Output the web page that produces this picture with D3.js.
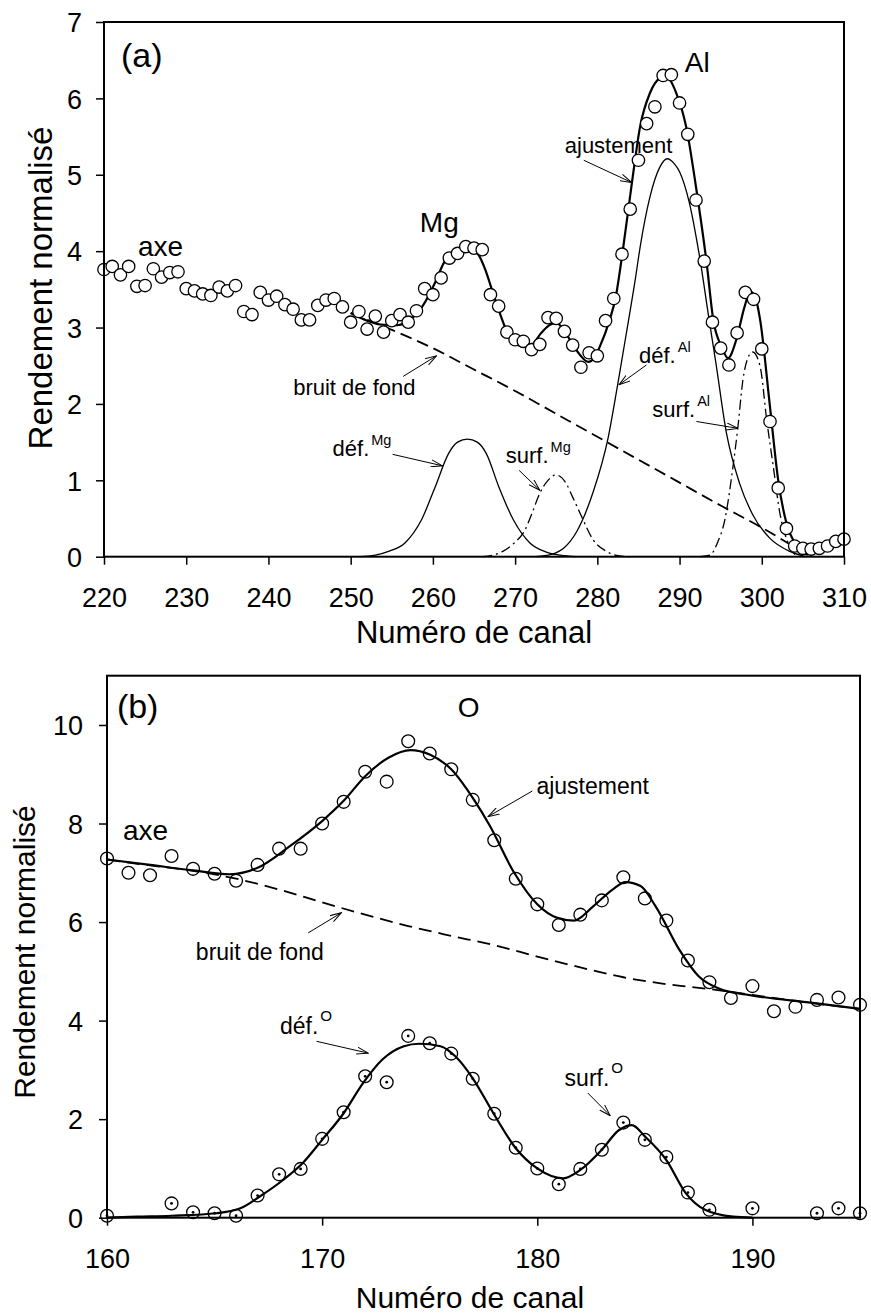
<!DOCTYPE html>
<html><head><meta charset="utf-8">
<script src="https://cdn.jsdelivr.net/npm/d3@7"></script>
<style>
html,body{margin:0;padding:0;background:#fff;}
text{font-family:"Liberation Sans",Arial,sans-serif;fill:#000;}
</style></head>
<body>
<svg id="chart" width="871" height="1316"></svg>
<script>
// ---------------- DATA : panel (a) ----------------
const channelsA = d3.range(220, 311);
const yieldA = [3.76,3.80,3.69,3.80,3.54,3.55,3.77,3.66,3.72,3.73,
  3.51,3.48,3.44,3.42,3.53,3.48,3.55,3.21,3.17,3.46,
  3.36,3.41,3.30,3.24,3.10,3.10,3.29,3.36,3.38,3.27,
  3.07,3.21,2.98,3.15,2.94,3.09,3.17,3.07,3.22,3.51,
  3.43,3.65,3.91,3.97,4.06,4.04,4.02,3.43,3.28,2.94,
  2.84,2.82,2.71,2.78,3.13,3.12,2.95,2.77,2.48,2.67,
  2.63,3.09,3.38,3.96,4.55,5.19,5.67,5.89,6.30,6.31,
  5.94,5.53,4.67,3.87,3.07,2.73,2.51,2.93,3.46,3.37,
  2.72,1.77,0.90,0.37,0.14,0.11,0.10,0.11,0.14,0.20,0.23];
const fitA = [[250,3.19],[252,3.09],[253.6,3.04],[255.6,3.03],[257.2,3.10],[258.8,3.29],[260.4,3.62],
  [261.3,3.84],[262.6,3.99],[264.1,4.05],[265.5,3.96],[266.5,3.72],[267.4,3.42],[268.2,3.17],[269.0,2.95],
  [269.8,2.82],[271.0,2.75],[272.2,2.79],[273.1,2.92],[273.9,3.01],[275.0,3.06],[276.2,2.92],[277.1,2.76],
  [277.9,2.64],[278.9,2.55],[279.6,2.60],[280.3,2.75],[281.5,3.10],[282.2,3.38],[283.1,4.01],[284.2,4.89],
  [285.2,5.63],[286.4,6.07],[287.6,6.26],[288.4,6.28],[289.6,6.07],[290.8,5.63],[292.0,4.84],[293.3,3.84],
  [294.1,3.10],[295.1,2.75],[295.9,2.60],[296.9,2.84],[297.9,3.27],[298.6,3.47],[299.2,3.40],[299.8,3.10],
  [301.0,1.96],[302.0,1.00],[303.0,0.44],[304.0,0.18],[305.0,0.07],[305.6,0.02]];
const bgA = [[250,3.19],[255,2.97],[260,2.73],[265,2.45],[270,2.17],[275,1.87],[280,1.57],[285,1.27],
  [290,0.97],[295,0.67],[300,0.38],[303,0.19],[305.5,0.02]];
const defMg = [[251,0],[253,0.02],[254.6,0.07],[256.6,0.18],[258.6,0.48],[260.3,0.92],[261.9,1.35],[263.0,1.50],
  [264.2,1.54],[265.4,1.50],[266.5,1.35],[268.0,0.92],[269.8,0.48],[271.8,0.18],[273.8,0.06],[275.5,0.02],[277.5,0]];
const surfMg = [[266,0],[267.3,0.02],[268.5,0.07],[269.8,0.17],[271.2,0.35],[272.1,0.58],[273.0,0.83],[274.0,1.00],
  [275.0,1.07],[276.2,0.96],[277.0,0.78],[277.9,0.57],[279.5,0.22],[281.1,0.07],[282.7,0.01],[284,0]];
const defAl = [[272.5,0],[274.4,0.03],[276,0.12],[277.5,0.33],[279.5,0.85],[281.3,1.55],[282.5,2.27],[283.6,2.97],
  [284.6,3.62],[285.2,4.05],[286.4,4.71],[287.6,5.10],[288.5,5.21],[289.4,5.14],[290.0,5.04],[291.2,4.63],
  [292.4,3.95],[293.6,3.10],[294.4,2.55],[295.7,1.62],[297.3,0.96],[298.9,0.55],[301.0,0.24],[303.4,0.07],[305.4,0]];
const surfAl = [[292.5,0],[293.7,0.02],[294.6,0.18],[295.5,0.48],[296.5,1.18],[297.1,1.70],[297.7,2.31],[298.3,2.60],
  [298.9,2.68],[299.8,2.49],[300.6,1.79],[301.4,1.18],[302.2,0.57],[303.2,0.18],[304.2,0.02],[305,0]];
const xTicksA = [220,230,240,250,260,270,280,290,300,310];
const yTicksA = [0,1,2,3,4,5,6,7];

// ---------------- DATA : panel (b) ----------------
const channelsB = d3.range(160, 196);
const yieldB = [7.29,7.00,6.95,7.34,7.08,6.98,6.84,7.16,7.49,7.49,
  8.00,8.44,9.05,8.85,9.67,9.42,9.10,8.48,7.66,6.88,
  6.36,5.94,6.15,6.44,6.91,6.48,6.03,5.22,4.78,4.46,
  4.70,4.19,4.28,4.42,4.47,4.32];
const channelsBO = [160,163,164,165,166,167,168,169,170,171,172,173,174,175,176,177,178,179,180,181,182,183,184,185,186,187,188,190,193,194,195];
const yieldBO = [0.04,0.29,0.11,0.09,0.04,0.45,0.88,0.99,1.60,2.14,2.87,2.75,3.69,3.54,3.33,2.82,2.11,1.42,1.00,0.68,0.99,1.38,1.93,1.58,1.23,0.51,0.16,0.19,0.09,0.19,0.09];
const fitB = [[160,7.27],[162,7.16],[164,7.05],[165.7,6.97],[167.0,7.10],[168.5,7.54],[170.0,8.05],[171.0,8.46],
  [172.0,8.96],[173.1,9.34],[174.1,9.49],[175.0,9.40],[176.0,9.10],[177.0,8.52],[177.8,7.95],[178.9,7.02],
  [180.0,6.36],[180.9,6.09],[181.7,6.03],[182.6,6.32],[183.5,6.66],[184.1,6.81],[184.8,6.73],[185.5,6.32],
  [186.6,5.44],[187.5,4.90],[188.5,4.64],[189.7,4.53],[192.8,4.36],[195,4.24]];
const bgB = [[160,7.27],[162,7.15],[164,7.04],[166,6.88],[168,6.66],[170,6.40],[172,6.15],[174,5.92],[176,5.72],
  [178,5.53],[180,5.30],[182,5.08],[184,4.88],[186,4.74],[188,4.64],[190,4.52],[192,4.40],[194,4.29],[195,4.24]];
const fitBO = [[160,0],[161.4,0.02],[163,0.04],[165.1,0.09],[166.2,0.19],[167.1,0.43],[168.2,0.77],[169.1,1.11],
  [170.0,1.58],[171.0,2.12],[171.9,2.73],[172.8,3.21],[173.8,3.48],[174.5,3.53],[175.5,3.48],[176.2,3.27],
  [177.0,2.83],[178.0,2.09],[179.0,1.41],[180.0,1.00],[181.2,0.80],[182.0,0.97],[183.0,1.38],[183.8,1.78],
  [184.4,1.88],[185.0,1.65],[186.0,1.17],[186.9,0.50],[187.8,0.16],[189.1,0.02],[190,0]];
const xTicksB = [160,170,180,190];
const yTicksB = [0,2,4,6,8,10];

// ---------------- LAYOUT ----------------
const svg = d3.select("#chart");
const defs = svg.append("defs");
defs.append("marker").attr("id","arr").attr("viewBox","0 0 12 8")
  .attr("refX",11.5).attr("refY",4).attr("markerWidth",12).attr("markerHeight",8)
  .attr("markerUnits","userSpaceOnUse").attr("orient","auto")
  .append("path").attr("d","M0,0.5 L11.5,4 L0,7.5").attr("fill","none").attr("stroke","#000").attr("stroke-width",1);

const xA = d3.scaleLinear().domain([220,310]).range([104,844]);
const yA = d3.scaleLinear().domain([0,7]).range([556.7,22]);
const xB = d3.scaleLinear().domain([160,195]).range([107,860]);
const yB = d3.scaleLinear().domain([0,11]).range([1217.7,675.7]);

function frame(g, x, y){
  const [x0,x1] = x.range(), [y0,y1] = y.range();
  g.append("rect").attr("x",x0).attr("y",y1).attr("width",x1-x0).attr("height",y0-y1)
    .attr("fill","none").attr("stroke","#000").attr("stroke-width",2);
}
function axes(g, x, y, xt, yt, fs, ypad){
  const gx = g.append("g").attr("transform",`translate(0,${y.range()[0]})`)
    .call(d3.axisBottom(x).tickValues(xt).tickSize(8).tickSizeOuter(0).tickFormat(d3.format("d")));
  gx.select(".domain").remove();
  gx.selectAll(".tick line").attr("stroke-width",1.5);
  gx.selectAll(".tick text").attr("y",50).attr("dy",0).style("font-size",fs+"px")
    .style("font-family","'Liberation Sans',Arial,sans-serif").attr("fill","#000");
  const gy = g.append("g").attr("transform",`translate(${x.range()[0]},0)`)
    .call(d3.axisLeft(y).tickValues(yt).tickSize(8).tickPadding(ypad).tickSizeOuter(0).tickFormat(d3.format("d")));
  gy.select(".domain").remove();
  gy.selectAll(".tick line").attr("stroke-width",1.5);
  gy.selectAll(".tick text").attr("dy","0.36em").style("font-size",fs+"px")
    .style("font-family","'Liberation Sans',Arial,sans-serif").attr("fill","#000");
}
function curve(g, x, y, pts, width, dash){
  const line = d3.line().x(d=>x(d[0])).y(d=>y(d[1])).curve(d3.curveMonotoneX);
  g.append("path").datum(pts).attr("d",line).attr("fill","none").attr("stroke","#000")
    .attr("stroke-width",width).attr("stroke-dasharray",dash||null).attr("stroke-linejoin","round");
}
function label(g, x, y, c, v, txt, fs, sup, supDx, supDy){
  const t = g.append("text").attr("x",x(c)).attr("y",y(v)).style("font-size",fs+"px").text(txt);
  if(sup){
    t.append("tspan").attr("dx",supDx).attr("dy",supDy).style("font-size",(fs*0.66)+"px").text(sup);
  }
  return t;
}
function arrow(g, x, y, c0, v0, c1, v1){
  g.append("line").attr("x1",x(c0)).attr("y1",y(v0)).attr("x2",x(c1)).attr("y2",y(v1))
    .attr("stroke","#000").attr("stroke-width",1).attr("marker-end","url(#arr)");
}

// ---------------- PANEL (a) ----------------
const gA = svg.append("g");
curve(gA, xA, yA, bgA, 1.8, "12,6");
curve(gA, xA, yA, defMg, 1.3);
curve(gA, xA, yA, surfMg, 1.3, "10,4,2,4");
curve(gA, xA, yA, defAl, 1.3);
curve(gA, xA, yA, surfAl, 1.3, "10,4,2,4");
curve(gA, xA, yA, fitA, 2.2);
gA.selectAll("circle.pt").data(channelsA.map((c,i)=>[c,yieldA[i]])).join("circle")
  .attr("class","pt").attr("cx",d=>xA(d[0])).attr("cy",d=>yA(d[1])).attr("r",6.2)
  .attr("fill","#fff").attr("stroke","#000").attr("stroke-width",1.3);
frame(gA, xA, yA);
axes(gA, xA, yA, xTicksA, yTicksA, 27, 14);
gA.append("text").attr("x",474).attr("y",643).attr("text-anchor","middle").style("font-size","31px").text("Numéro de canal");
gA.append("text").attr("transform","translate(52,288) rotate(-90)").attr("text-anchor","middle").style("font-size","33px").text("Rendement normalisé");

label(gA, xA, yA, 222.07, 6.41, "(a)", 34);
label(gA, xA, yA, 224.13, 3.94, "axe", 28);
label(gA, xA, yA, 258.41, 4.25, "Mg", 28);
label(gA, xA, yA, 290.63, 6.34, "Al", 28);
label(gA, xA, yA, 276.04, 5.28, "ajustement", 22);
arrow(gA, xA, yA, 278.35, 5.19, 284.15, 4.90);
label(gA, xA, yA, 243.01, 2.12, "bruit de fond", 22);
arrow(gA, xA, yA, 256.38, 2.36, 260.44, 2.63);
label(gA, xA, yA, 247.8, 1.32, "déf.", 22, "Mg", 2, -11);
arrow(gA, xA, yA, 255.1, 1.34, 261.16, 1.19);
label(gA, xA, yA, 268.87, 1.23, "surf.", 22, "Mg", 2, -11);
arrow(gA, xA, yA, 270.49, 1.13, 273.0, 0.87);
label(gA, xA, yA, 285.07, 2.54, "déf.", 22, "Al", 2, -11);
arrow(gA, xA, yA, 285.97, 2.51, 282.63, 2.25);
label(gA, xA, yA, 286.69, 1.83, "surf.", 22, "Al", 2, -11);
arrow(gA, xA, yA, 292.05, 1.77, 297.11, 1.68);

// ---------------- PANEL (b) ----------------
const gB = svg.append("g");
curve(gB, xB, yB, bgB, 1.8, "13,7");
curve(gB, xB, yB, fitB, 2.2);
curve(gB, xB, yB, fitBO, 2.2);
gB.selectAll("circle.pt").data(channelsB.map((c,i)=>[c,yieldB[i]])).join("circle")
  .attr("class","pt").attr("cx",d=>xB(d[0])).attr("cy",d=>yB(d[1])).attr("r",6.4)
  .attr("fill","none").attr("stroke","#000").attr("stroke-width",1.3);
const ptsO = gB.selectAll("g.po").data(channelsBO.map((c,i)=>[c,yieldBO[i]])).join("g").attr("class","po");
ptsO.append("circle").attr("cx",d=>xB(d[0])).attr("cy",d=>yB(d[1])).attr("r",6.4)
  .attr("fill","none").attr("stroke","#000").attr("stroke-width",1.3);
ptsO.append("circle").attr("cx",d=>xB(d[0])).attr("cy",d=>yB(d[1])).attr("r",1.4).attr("fill","#000");
frame(gB, xB, yB);
axes(gB, xB, yB, xTicksB, yTicksB, 27, 16);
gB.append("text").attr("x",470).attr("y",1308).attr("text-anchor","middle").style("font-size","30px").text("Numéro de canal");
gB.append("text").attr("transform","translate(35,952) rotate(-90)").attr("text-anchor","middle").style("font-size","30px").text("Rendement normalisé");

label(gB, xB, yB, 160.46, 10.14, "(b)", 34);
label(gB, xB, yB, 160.74, 7.66, "axe", 28);
label(gB, xB, yB, 176.30, 10.16, "O", 28);
label(gB, xB, yB, 179.96, 8.59, "ajustement", 23);
arrow(gB, xB, yB, 179.77, 8.66, 177.71, 8.14);
label(gB, xB, yB, 164.13, 5.22, "bruit de fond", 23);
arrow(gB, xB, yB, 169.35, 5.78, 170.9, 6.19);
label(gB, xB, yB, 168.04, 3.73, "déf.", 23, "O", 2, -13);
arrow(gB, xB, yB, 169.74, 3.58, 172.14, 3.34);
label(gB, xB, yB, 181.27, 2.68, "surf.", 23, "O", 2, -13);
arrow(gB, xB, yB, 182.35, 2.53, 183.39, 2.07);
</script>
</body></html>
